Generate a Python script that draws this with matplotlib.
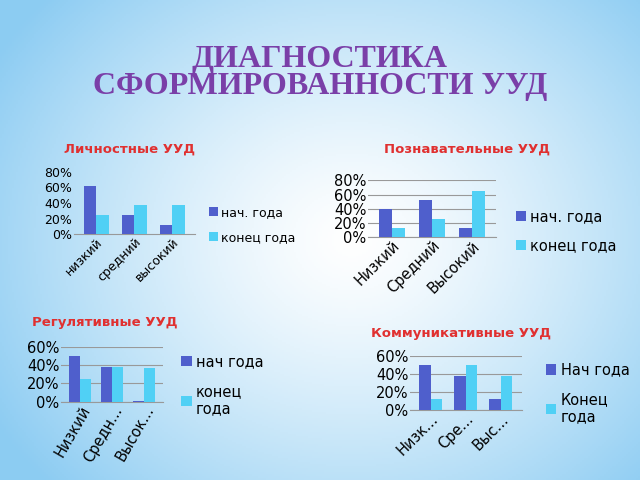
import numpy as np
import matplotlib.pyplot as plt

levels1 = ['низкий', 'средний', 'высокий']
levels2 = ['Низкий', 'Средний', 'Высокий']
levels3 = ['Низкий', 'Средн...', 'Высок...']
levels4 = ['Низк...', 'Сре...', 'Выс...']

lich_start = [0.62, 0.25, 0.12]
lich_end = [0.25, 0.38, 0.38]
pozn_start = [0.40, 0.52, 0.12]
pozn_end = [0.12, 0.25, 0.65]
reg_start = [0.50, 0.38, 0.01]
reg_end = [0.25, 0.38, 0.37]
komm_start = [0.50, 0.37, 0.12]
komm_end = [0.12, 0.50, 0.37]

C1 = '#4F5FCC'
C2 = '#50D0F5'

fig = plt.figure(figsize=(6.4, 4.8), dpi=100)

# background gradient
bg = fig.add_axes([0, 0, 1, 1])
yy, xx = np.mgrid[0:1:240j, 0:1:320j]
r = np.sqrt(((xx - 0.55) / 0.65) ** 2 + ((yy - 0.5) / 0.75) ** 2)
r = np.clip(r, 0, 1)
c0 = np.array([1.0, 1.0, 1.0])
c1 = np.array([0.55, 0.80, 0.95])
img = c0 + (c1 - c0) * r[..., None] ** 1.3
bg.imshow(img, aspect='auto', extent=[0, 1, 0, 1])
bg.axis('off')

fig.text(0.5, 0.848, 'ДИАГНОСТИКА\nСФОРМИРОВАННОСТИ УУД', ha='center', va='center',
         fontsize=23, fontweight='bold', color='#7A3FA8', family='Liberation Serif',
         linespacing=0.95)

subs = [(0.10, 0.683, 'Личностные УУД'), (0.60, 0.683, 'Познавательные УУД'),
        (0.05, 0.32, 'Регулятивные УУД'), (0.58, 0.297, 'Коммуникативные УУД')]
for x, y, t in subs:
    fig.text(x, y, t, fontsize=9.5, fontweight='bold', color='#E03030')


def chart(rect, labels, s, e, ymax, leg_names, leg_pos, rot, grid, fs):
    ax = fig.add_axes(rect)
    x = np.arange(len(labels))
    w = 0.33
    ax.bar(x - w / 2, s, w, color=C1, label=leg_names[0], zorder=3)
    ax.bar(x + w / 2, e, w, color=C2, label=leg_names[1], zorder=3)
    ax.set_ylim(0, ymax)
    ax.set_xlim(-0.6, len(labels) - 0.4)
    ticks = np.arange(0, ymax + 0.001, 0.2)
    ax.set_yticks(ticks)
    ax.set_yticklabels([f'{int(round(t * 100))}%' for t in ticks], fontsize=fs)
    ax.set_xticks(x)
    ax.set_xticklabels(labels, rotation=rot, ha='right', rotation_mode='anchor', fontsize=fs)
    ax.patch.set_alpha(0)
    for sp in ['top', 'right', 'left']:
        ax.spines[sp].set_visible(False)
    ax.spines['bottom'].set_color('#999999')
    ax.tick_params(length=0, pad=1)
    if grid:
        ax.grid(axis='y', color='#999999', lw=0.8, zorder=0)
    ax.legend(loc='center left', bbox_to_anchor=leg_pos, frameon=False,
              fontsize=fs, handlelength=0.7, handletextpad=0.3, labelspacing=1.0)
    return ax


chart([0.115, 0.512, 0.19, 0.13], levels1, lich_start, lich_end, 0.8,
      ['нач. года', 'конец года'], (1.02, 0.15), 45, False, 9)
chart([0.575, 0.507, 0.20, 0.117], levels2, pozn_start, pozn_end, 0.8,
      ['нач. года', 'конец года'], (1.05, 0.1), 45, True, 10.5)
chart([0.095, 0.163, 0.16, 0.115], levels3, reg_start, reg_end, 0.6,
      ['нач года', 'конец\nгода'], (1.05, 0.3), 60, True, 10.5)
chart([0.64, 0.146, 0.175, 0.113], levels4, komm_start, komm_end, 0.6,
      ['Нач года', 'Конец\nгода'], (1.1, 0.3), 45, True, 10.5)

fig.savefig('out.png', dpi=100)
